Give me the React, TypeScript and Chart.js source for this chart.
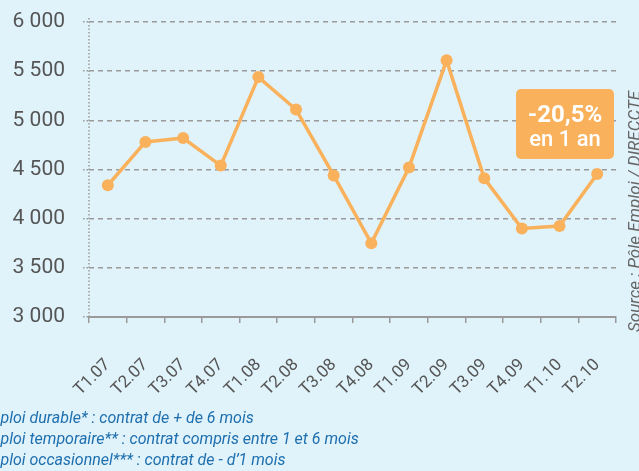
import React, { useEffect, useRef } from "react";
import { Chart, registerables } from "chart.js";

Chart.register(...registerables);

const categories = ["T1.07", "T2.07", "T3.07", "T4.07", "T1.08", "T2.08", "T3.08", "T4.08", "T1.09", "T2.09", "T3.09", "T4.09", "T1.10", "T2.10"];
const values = [4340, 4780, 4820, 4540, 5440, 5110, 4440, 3750, 4520, 5610, 4410, 3900, 3925, 4455];
const yMin = 3000;
const yMax = 6000;
const yStep = 500;
const badgeLines = ["-20,5%", "en 1 an"];
const sourceText = "Source : Pôle Emploi / DIRECCTE";
const footerLines = [
  "Emploi durable* : contrat de + de 6 mois",
  "Emploi temporaire** : contrat compris entre 1 et 6 mois",
  "Emploi occasionnel*** : contrat de - d’1 mois",
];

const BG = "#E0F2FA";
const ORANGE = "#F9B15B";
const GRID = "#9A9A9A";
const LABEL = "#555555";

const fmt = (v: number) => {
  const th = Math.floor(v / 1000);
  const rest = String(v % 1000).padStart(3, "0");
  return `${th} ${rest}`;
};

const decorPlugin = {
  id: "decor",
  beforeDatasetsDraw(chart: any) {
    const ctx = chart.ctx;
    const area = chart.chartArea;
    ctx.save();
    ctx.strokeStyle = GRID;
    ctx.lineWidth = 1.5;
    ctx.setLineDash([1.5, 2]);
    ctx.beginPath();
    ctx.moveTo(area.left, area.top - 4);
    ctx.lineTo(area.left, area.bottom);
    ctx.stroke();
    ctx.restore();
  },
  afterDraw(chart: any) {
    const ctx = chart.ctx;
    const area = chart.chartArea;
    ctx.save();
    // badge
    const bw = 98, bh = 70;
    const bx = area.right - bw - 2;
    const by = 89;
    ctx.fillStyle = ORANGE;
    ctx.beginPath();
    (ctx as any).roundRect(bx, by, bw, bh, 5);
    ctx.fill();
    ctx.fillStyle = "#ffffff";
    ctx.textAlign = "center";
    ctx.textBaseline = "alphabetic";
    ctx.font = "bold 24px Roboto";
    ctx.fillText(badgeLines[0], bx + bw / 2, by + 33);
    ctx.font = "500 22px Roboto";
    ctx.fillText(badgeLines[1], bx + bw / 2, by + 57);
    // source
    ctx.translate(640, 332);
    ctx.rotate(-Math.PI / 2);
    ctx.textAlign = "left";
    ctx.fillStyle = "#666666";
    ctx.font = "italic 17px Roboto";
    ctx.fillText(sourceText, 0, 0);
    ctx.restore();
  },
};

export default function App() {
  const ref = useRef<HTMLCanvasElement | null>(null);
  useEffect(() => {
    if (!ref.current) return;
    const chart = new Chart(ref.current, {
      type: "line",
      data: {
        labels: categories,
        datasets: [
          {
            data: values,
            borderColor: ORANGE,
            backgroundColor: ORANGE,
            borderWidth: 3.5,
            pointRadius: 6,
            pointBackgroundColor: ORANGE,
            pointBorderWidth: 0,
            tension: 0,
          },
        ],
      },
      options: {
        responsive: false,
        animation: false,
        layout: { padding: { top: 22, right: 23, left: 0, bottom: 0 } },
        plugins: { legend: { display: false }, tooltip: { enabled: false } },
        scales: {
          x: {
            type: "category",
            offset: true,
            afterFit: (s: any) => {
              s.height = 154;
              s.paddingLeft = 0;
              s.paddingRight = 0;
            },
            grid: {
              display: true,
              drawOnChartArea: false,
              drawTicks: true,
              tickLength: 6,
              color: GRID,
              lineWidth: 1.5,
              offset: true,
            },
            border: { display: true, color: GRID, width: 2 },
            ticks: {
              color: LABEL,
              font: { family: "Roboto", size: 17 },
              maxRotation: 45,
              minRotation: 45,
              padding: 32,
              autoSkip: false,
            },
          },
          y: {
            min: yMin,
            max: yMax,
            afterFit: (s: any) => {
              s.width = 89;
              s.paddingTop = 0;
              s.paddingBottom = 0;
            },
            ticks: {
              stepSize: yStep,
              color: LABEL,
              font: { family: "Roboto", size: 21 },
              padding: 18,
              callback: (v: any) => fmt(Number(v)),
            },
            grid: {
              color: GRID,
              lineWidth: 1.5,
              tickLength: 6,
              drawTicks: true,
              tickBorderDash: [1.5, 2],
            },
            border: { display: false, color: GRID, width: 1.5, dash: [5, 4] },
          } as any,
        },
      },
      plugins: [decorPlugin],
    } as any);
    return () => chart.destroy();
  }, []);

  return (
    <div style={{ position: "fixed", left: 0, top: 0, width: 639, height: 471, background: BG, overflow: "hidden" }}>
      <canvas ref={ref} width={639} height={471} style={{ position: "absolute", left: 0, top: 0, width: 639, height: 471 }} />
      {footerLines.map((t, i) => (
        <div
          key={i}
          style={{
            position: "absolute",
            left: -22,
            top: 407 + i * 21,
            fontFamily: "Roboto",
            fontStyle: "italic",
            fontSize: 16,
            color: "#1E6FAE",
            whiteSpace: "nowrap",
            lineHeight: "21px",
          }}
        >
          {t}
        </div>
      ))}
    </div>
  );
}
